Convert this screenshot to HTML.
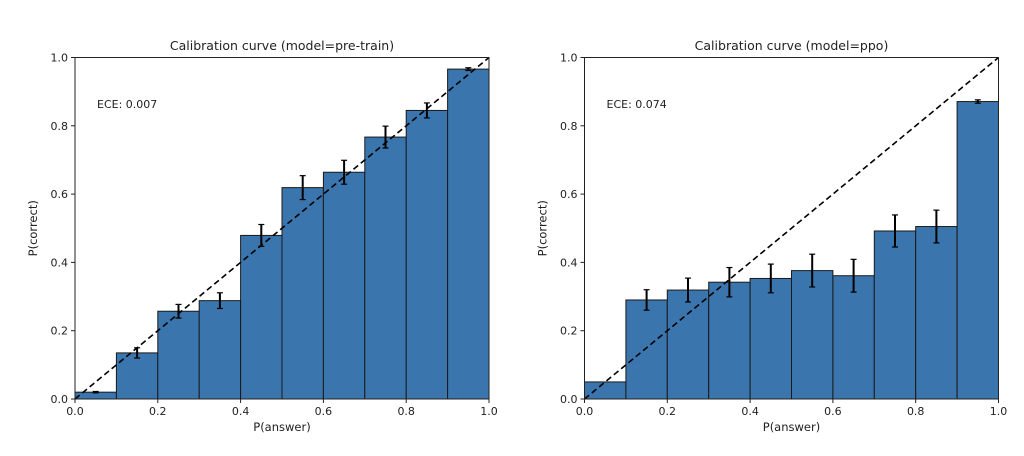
<!DOCTYPE html>
<html><head><meta charset="utf-8"><style>
body{margin:0;background:#fff;}
svg text{font-family:"DejaVu Sans","Liberation Sans",sans-serif;fill:#222;}
</style></head><body>
<svg id="chart" width="1024" height="451"></svg>
<script>
const binCenters=[0.05,0.15,0.25,0.35,0.45,0.55,0.65,0.75,0.85,0.95];
const preValues=[0.02,0.135,0.257,0.288,0.479,0.619,0.664,0.767,0.845,0.966];
const preErrors=[0.002,0.015,0.02,0.023,0.032,0.035,0.035,0.032,0.022,0.004];
const ppoValues=[0.05,0.29,0.319,0.342,0.353,0.376,0.361,0.492,0.505,0.871];
const ppoErrors=[0,0.03,0.035,0.043,0.042,0.048,0.048,0.047,0.048,0.005];
const tickLabels=["0.0","0.2","0.4","0.6","0.8","1.0"];
const tickValues=[0,0.2,0.4,0.6,0.8,1.0];
const binWidth=0.1;
const panels=[
 {name:"pre-train",x0:75,x1:489,title:"Calibration curve (model=pre-train)",ece:"ECE: 0.007",vals:preValues,errs:preErrors},
 {name:"ppo",x0:584.5,x1:998.5,title:"Calibration curve (model=ppo)",ece:"ECE: 0.074",vals:ppoValues,errs:ppoErrors}
];
const Y0=399,Y1=57.5;
const svg=document.getElementById('chart');
const NS="http://www.w3.org/2000/svg";
function mk(tag,attrs,parent){const e=document.createElementNS(NS,tag);for(const k in attrs)e.setAttribute(k,attrs[k]);parent.appendChild(e);return e;}
panels.forEach(p=>{
 const g=mk('g',{},svg);
 
 
 const sx=v=>p.x0+v*(p.x1-p.x0);
 const sy=v=>Y0-v*(Y0-Y1);
 p.vals.forEach((v,i)=>{
  const r=mk('rect',{x:sx(binCenters[i]-binWidth/2),y:sy(v),width:sx(binWidth)-sx(0),height:sy(0)-sy(v),fill:'#3a75ae',stroke:'#1a1a1a','stroke-width':1},g);
  
  
 });
 p.vals.forEach((v,i)=>{
  const e=p.errs[i]; if(e<=0)return;
  const cx=sx(binCenters[i]);
  const eg=mk('g',{stroke:'#000','stroke-width':2},g);
  
  
  mk('line',{x1:cx,x2:cx,y1:sy(v-e),y2:sy(v+e)},eg);
  mk('line',{x1:cx-3,x2:cx+3,y1:sy(v-e),y2:sy(v-e),'stroke-width':1.2},eg);
  mk('line',{x1:cx-3,x2:cx+3,y1:sy(v+e),y2:sy(v+e),'stroke-width':1.2},eg);
 });
 const d=mk('line',{x1:sx(0),y1:sy(0),x2:sx(1),y2:sy(1),stroke:'#000','stroke-width':1.6,'stroke-dasharray':'6,3.5'},g);
 
 
 const fr=mk('rect',{x:p.x0,y:Y1,width:p.x1-p.x0,height:Y0-Y1,fill:'none',stroke:'#222','stroke-width':1},g);
 
 
 tickValues.forEach((t,i)=>{
  mk('line',{x1:sx(t),x2:sx(t),y1:Y0,y2:Y0+4,stroke:'#222'},g);
  const xt=mk('text',{x:sx(t),y:Y0+16,'font-size':11,'text-anchor':'middle'},g);
  xt.textContent=tickLabels[i];
  
  
  mk('line',{x1:p.x0-4,x2:p.x0,y1:sy(t),y2:sy(t),stroke:'#222'},g);
  const yt=mk('text',{x:p.x0-7,y:sy(t)+4,'font-size':11,'text-anchor':'end'},g);
  yt.textContent=tickLabels[i];
  
  
 });
 const ti=mk('text',{x:(p.x0+p.x1)/2,y:50,'font-size':12.5,'text-anchor':'middle'},g);
 ti.textContent=p.title;
 
 
 const ec=mk('text',{x:p.x0+22,y:108,'font-size':11},g);
 ec.textContent=p.ece;
 
 
 const xl=mk('text',{x:(p.x0+p.x1)/2,y:Y0+32,'font-size':11.5,'text-anchor':'middle'},g);
 xl.textContent="P(answer)";
 
 
 const yy=(Y0+Y1)/2;
 const yl=mk('text',{x:p.x0-38,y:yy,'font-size':11.5,'text-anchor':'middle',transform:`rotate(-90 ${p.x0-38} ${yy})`},g);
 yl.textContent="P(correct)";
 
 
});
</script>
</body></html>
